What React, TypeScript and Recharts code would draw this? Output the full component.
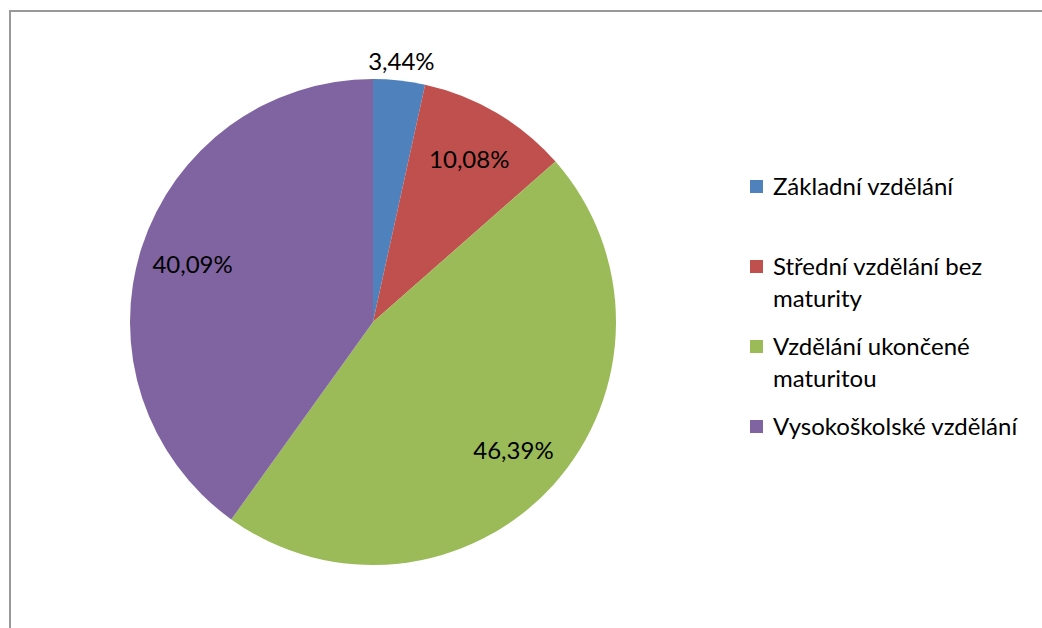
import { Legend, Pie, PieChart } from "recharts";

const CATEGORIES = [
  "Základní vzdělání",
  "Střední vzdělání bez maturity",
  "Vzdělání ukončené maturitou",
  "Vysokoškolské vzdělání",
];
const SHARES = [3.44, 10.08, 46.39, 40.09];
const COLORS = ["#4F81BD", "#C0504D", "#9BBB59", "#8064A2"];

const FONT = "Lato, 'Open Sans', sans-serif";
const FONT_SIZE = 24;

const data = CATEGORIES.map((name, i) => ({ name, value: SHARES[i], fill: COLORS[i] }));

const fmt = (v: number) => `${v.toFixed(2).replace(".", ",")}%`;

const RADIAN = Math.PI / 180;

function SliceLabel(props: any) {
  const { cx, cy, midAngle, outerRadius, value } = props;
  // small slice label sits outside, the rest inside
  const r = value < 5 ? outerRadius + 20 : outerRadius * 0.78;
  const x = cx + r * Math.cos(-midAngle * RADIAN);
  const y = cy + r * Math.sin(-midAngle * RADIAN);
  return (
    <text
      x={x}
      y={y}
      fill="#000"
      textAnchor="middle"
      dominantBaseline="central"
      fontFamily={FONT}
      fontSize={FONT_SIZE}
    >
      {fmt(value)}
    </text>
  );
}

function LegendBox() {
  return (
    <div style={{ fontFamily: FONT, fontSize: FONT_SIZE, color: "#000", lineHeight: "32px" }}>
      {data.map((d) => (
        <div key={d.name} style={{ height: 80, display: "flex", alignItems: "flex-start" }}>
          <span
            style={{
              display: "inline-block",
              width: 13,
              height: 13,
              background: d.fill,
              marginTop: 10,
              marginRight: 10,
              flex: "none",
            }}
          />
          <span style={{ width: 262 }}>{d.name}</span>
        </div>
      ))}
    </div>
  );
}

export default function App() {
  return (
    <div
      style={{
        position: "absolute",
        left: 0,
        top: 0,
        width: 1042,
        height: 628,
        overflow: "hidden",
        background: "#fff",
      }}
    >
      <div
        style={{
          position: "absolute",
          left: 9,
          top: 10,
          width: 1200,
          height: 800,
          border: "2px solid #999",
        }}
      />
      <PieChart
        width={1042}
        height={628}
        margin={{ top: 0, right: 0, bottom: 0, left: 0 }}
        style={{ position: "absolute", left: 0, top: 0 }}
      >
        <Pie
          data={data}
          dataKey="value"
          nameKey="name"
          cx={373}
          cy={322}
          outerRadius={243}
          startAngle={90}
          endAngle={-270}
          stroke="none"
          label={SliceLabel}
          labelLine={false}
          isAnimationActive={false}
        />
        <Legend
          content={LegendBox}
          wrapperStyle={{ left: 750, top: 170, width: 290, bottom: "auto", right: "auto" }}
        />
      </PieChart>
    </div>
  );
}
